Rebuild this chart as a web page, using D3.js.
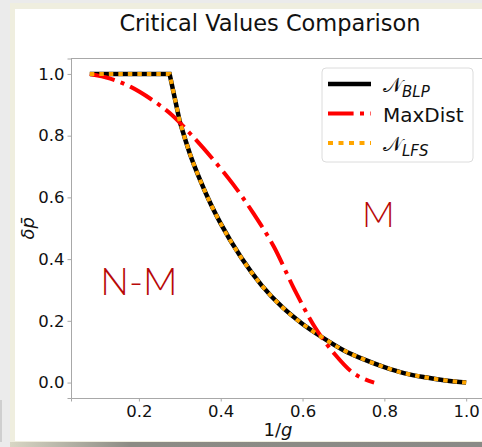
<!DOCTYPE html>
<html>
<head>
<meta charset="utf-8">
<script src="https://cdn.jsdelivr.net/npm/d3@7"></script>
<style>
  body { margin: 0; background: #ebebeb; }
  text { font-family: "DejaVu Sans", sans-serif; }
</style>
</head>
<body>
<div class="chart"></div>
<script>
// data
var blpX = [0.08, 0.12, 0.16, 0.20, 0.24, 0.275, 0.30, 0.325, 0.35, 0.375, 0.40, 0.45, 0.50, 0.55, 0.60, 0.65, 0.70, 0.75, 0.80, 0.85, 0.90, 0.95, 1.0];
var blpY = [1.0, 1.0, 1.0, 1.0, 1.0, 1.0, 0.845, 0.74, 0.655, 0.58, 0.515, 0.405, 0.315, 0.245, 0.19, 0.145, 0.105, 0.075, 0.05, 0.03, 0.017, 0.007, 0.0];
var lfsY = blpY.slice();
var maxX = [0.08, 0.13, 0.18, 0.23, 0.28, 0.33, 0.38, 0.43, 0.48, 0.53, 0.58, 0.63, 0.68, 0.72, 0.75, 0.775];
var maxY = [1.0, 0.985, 0.958, 0.918, 0.868, 0.80, 0.725, 0.643, 0.548, 0.44, 0.302, 0.18, 0.09, 0.035, 0.012, 0.0];
var xTicks = [0.2, 0.4, 0.6, 0.8, 1.0];
var yTicks = [0.0, 0.2, 0.4, 0.6, 0.8, 1.0];

var svgWidth = 482;
var svgHeight = 447;

var margin = { top: 58.5, right: -3, bottom: 49, left: 71 };
var width = svgWidth - margin.left - margin.right;
var height = svgHeight - margin.top - margin.bottom;

var svg = d3.select(".chart")
  .append("svg")
  .attr("width", svgWidth)
  .attr("height", svgHeight)
  .style("display", "block");

// window frame behind the figure
svg.append("rect").attr("x", 10).attr("y", 3).attr("width", svgWidth).attr("height", 440).attr("fill", "#efeedf");
svg.append("rect").attr("x", 15).attr("y", 9).attr("width", svgWidth).attr("height", 432).attr("fill", "#ffffff");
var shade = svg.append("defs").append("linearGradient").attr("id", "shade");
shade.append("stop").attr("offset", "0%").attr("stop-color", "#d8d6c4");
shade.append("stop").attr("offset", "25%").attr("stop-color", "#8c8b84");
shade.append("stop").attr("offset", "100%").attr("stop-color", "#8a8a86");
svg.append("rect").attr("x", 10).attr("y", 442).attr("width", svgWidth).attr("height", 5).attr("fill", "url(#shade)");
svg.append("rect").attr("x", 0).attr("y", 400).attr("width", 2).attr("height", 42).attr("fill", "#cfcfcf");

// title
svg.append("text")
  .attr("x", 270)
  .attr("y", 31)
  .attr("text-anchor", "middle")
  .attr("font-size", "22.5px")
  .attr("fill", "#111")
  .text("Critical Values Comparison");

var chartGroup = svg.append("g")
  .attr("transform", `translate(${margin.left}, ${margin.top})`);

// scales, with matplotlib style 5% padding
var xLinearScale = d3.scaleLinear()
  .domain([0.034, 1.046])
  .range([0, width]);

var yLinearScale = d3.scaleLinear()
  .domain([-0.05, 1.05])
  .range([height, 0]);

// axes
var bottomAxis = d3.axisBottom(xLinearScale).tickValues(xTicks).tickFormat(d3.format(".1f")).tickSizeOuter(0).tickSize(3.5).tickPadding(4);
var leftAxis = d3.axisLeft(yLinearScale).tickValues(yTicks).tickFormat(d3.format(".1f")).tickSizeOuter(0).tickSize(3.5).tickPadding(3);

var xAxisG = chartGroup.append("g")
  .attr("transform", `translate(0, ${height})`)
  .call(bottomAxis);
var yAxisG = chartGroup.append("g")
  .call(leftAxis);

[xAxisG, yAxisG].forEach(function (g) {
  g.select(".domain").attr("stroke", "#a8a8a8").attr("stroke-width", 1);
  g.selectAll(".tick line").attr("stroke", "#a8a8a8").attr("stroke-width", 1);
  g.selectAll(".tick text").attr("font-size", "16.5px").attr("fill", "#111")
    .attr("font-family", "DejaVu Sans, sans-serif");
});

// top spine
chartGroup.append("line")
  .attr("x1", 0).attr("x2", width).attr("y1", 0).attr("y2", 0)
  .attr("stroke", "#a8a8a8").attr("stroke-width", 1);

// clip to axes
chartGroup.append("clipPath").attr("id", "clip")
  .append("rect").attr("width", width).attr("height", height);

var line = d3.line()
  .x(d => xLinearScale(d[0]))
  .y(d => yLinearScale(d[1]))
  .curve(d3.curveMonotoneX);

var blpData = blpX.map((x, i) => [x, blpY[i]]);
var lfsData = blpX.map((x, i) => [x, lfsY[i]]);
var maxData = maxX.map((x, i) => [x, maxY[i]]);

// keep the corner sharp: linear up to the kink, smooth afterwards
var kink = 5;
var lineLin = d3.line().x(d => xLinearScale(d[0])).y(d => yLinearScale(d[1]));
function kinkPath(data) {
  var head = lineLin(data.slice(0, kink + 2));
  var tail = line(data.slice(kink + 1));
  return head + tail.replace(/^M/, "L");
}

var plot = chartGroup.append("g").attr("clip-path", "url(#clip)");

plot.append("path")
  .attr("d", kinkPath(blpData))
  .attr("fill", "none")
  .attr("stroke", "#000")
  .attr("stroke-width", 4.5);

plot.append("path")
  .attr("d", line(maxData))
  .attr("fill", "none")
  .attr("stroke", "#ff0000")
  .attr("stroke-width", 4)
  .attr("stroke-dasharray", "25.6,6.4,4,6.4");

plot.append("path")
  .attr("d", kinkPath(lfsData))
  .attr("fill", "none")
  .attr("stroke", "#ffa500")
  .attr("stroke-width", 4)
  .attr("stroke-dasharray", "4.5,5");

// region labels
chartGroup.append("text")
  .attr("x", xLinearScale(0.2))
  .attr("y", yLinearScale(0.285))
  .attr("text-anchor", "middle")
  .attr("font-weight", 300)
  .attr("font-size", "38px")
  .attr("fill", "#b80808")
  .style("font-family", "Lato, sans-serif")
  .text("N-M");

chartGroup.append("text")
  .attr("x", xLinearScale(0.785))
  .attr("y", yLinearScale(0.505))
  .attr("text-anchor", "middle")
  .attr("font-weight", 300)
  .attr("font-size", "36px")
  .attr("fill", "#b80808")
  .style("font-family", "Lato, sans-serif")
  .text("M");

// legend
var legendItems = [
  { main: "\uD835\uDCA9", sub: "BLP", color: "#000", dash: null, w: 4.5 },
  { main: "MaxDist", sub: null, color: "#ff0000", dash: "25.6,6.4,4,6.4", w: 4 },
  { main: "\uD835\uDCA9", sub: "LFS", color: "#ffa500", dash: "5,5.5", w: 4 }
];

var legend = svg.append("g").attr("transform", "translate(322, 68)");
legend.append("rect")
  .attr("width", 151).attr("height", 94)
  .attr("rx", 4)
  .attr("fill", "#fff")
  .attr("stroke", "#dcdcdc");

var rows = legend.selectAll("g.row").data(legendItems).enter()
  .append("g")
  .attr("transform", (d, i) => `translate(0, ${16 + i * 29.5})`);

rows.append("line")
  .attr("x1", 6).attr("x2", 49)
  .attr("stroke", d => d.color)
  .attr("stroke-width", d => d.w)
  .attr("stroke-dasharray", d => d.dash);

var labels = rows.append("text")
  .attr("x", 61)
  .attr("y", 8)
  .attr("font-size", "20px")
  .attr("fill", "#111");
labels.append("tspan").text(d => d.main);
labels.filter(d => d.sub).append("tspan")
  .attr("dy", 5)
  .attr("font-size", "15px")
  .attr("font-style", "italic")
  .text(d => d.sub);

// axis labels
svg.append("text")
  .attr("transform", `translate(34, ${margin.top + height / 2}) rotate(-90)`)
  .attr("text-anchor", "middle")
  .attr("font-size", "18px")
  .attr("font-style", "italic")
  .attr("fill", "#111")
  .text("\u03B4p\u0304");

var xl = svg.append("text")
  .attr("x", margin.left + (xLinearScale(0.54)))
  .attr("y", 436)
  .attr("text-anchor", "middle")
  .attr("font-size", "18px")
  .attr("fill", "#111");
xl.append("tspan").text("1/");
xl.append("tspan").attr("font-style", "italic").text("g");
</script>
</body>
</html>
